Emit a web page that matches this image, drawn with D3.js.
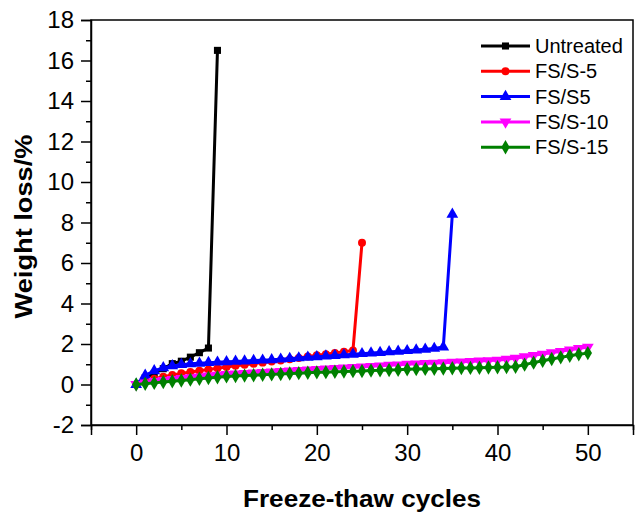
<!DOCTYPE html>
<html>
<head>
<meta charset="utf-8">
<title>Weight loss</title>
<style>
	body { margin: 0; background: #fff; }
	svg { display: block; font-family: Arial, "Liberation Sans", sans-serif; }
</style>
</head>
<body>
<svg width="635" height="518"></svg>
<script src="https://cdn.jsdelivr.net/npm/d3@7"></script>
<script>
	// data
	const names = ["Untreated", "FS/S-5", "FS/S5", "FS/S-10", "FS/S-15"]
	const colors = ["#000000", "#ff0000", "#0000ff", "#ff00ff", "#008000"]
	const symbols = ["square", "circle", "triangle", "triangleDown", "diamond"]

	const untreated = [0, 0.33, 0.55, 0.78, 1.03, 1.15, 1.35, 1.57, 1.8, 16.5]
	const fs5neg = [0, 0.15, 0.28, 0.38, 0.47, 0.55, 0.62, 0.68, 0.74, 0.8, 0.86, 0.92, 0.98, 1.03, 1.08,
		1.13, 1.19, 1.25, 1.31, 1.38, 1.44, 1.5, 1.56, 1.62, 1.68, 7.0]
	const fs5 = [0, 0.45, 0.68, 0.82, 0.92, 0.98, 1.02, 1.05, 1.08, 1.1, 1.12, 1.14, 1.16, 1.18, 1.2,
		1.22, 1.25, 1.28, 1.31, 1.34, 1.37, 1.4, 1.43, 1.46, 1.49, 1.52, 1.55, 1.58, 1.61, 1.64,
		1.67, 1.7, 1.74, 1.78, 1.85, 8.4]
	const fs10 = [0, 0.08, 0.15, 0.2, 0.25, 0.3, 0.34, 0.38, 0.42, 0.46, 0.5, 0.52, 0.55, 0.57, 0.6,
		0.62, 0.65, 0.67, 0.7, 0.72, 0.75, 0.77, 0.8, 0.82, 0.85, 0.87, 0.9, 0.92, 0.95, 0.97,
		1.0, 1.02, 1.04, 1.06, 1.08, 1.1, 1.12, 1.14, 1.16, 1.18, 1.2, 1.25, 1.3, 1.37, 1.44,
		1.5, 1.57, 1.64, 1.71, 1.78, 1.85]
	const fs15 = [0, 0.04, 0.08, 0.12, 0.16, 0.2, 0.24, 0.28, 0.32, 0.36, 0.4, 0.42, 0.44, 0.46, 0.48,
		0.5, 0.52, 0.54, 0.56, 0.58, 0.6, 0.61, 0.63, 0.64, 0.66, 0.67, 0.69, 0.7, 0.72, 0.73,
		0.75, 0.76, 0.77, 0.78, 0.79, 0.8, 0.81, 0.82, 0.83, 0.84, 0.85, 0.86, 0.88, 0.98, 1.08,
		1.17, 1.26, 1.34, 1.42, 1.49, 1.55]
	const series = [untreated, fs5neg, fs5, fs10, fs15]

	const xTicks = [0, 10, 20, 30, 40, 50]
	const yTicks = [-2, 0, 2, 4, 6, 8, 10, 12, 14, 16, 18]

	const svg = d3.select("svg")
	const L = 91, R = 633, T = 20, B = 425

	const x = d3.scaleLinear().domain([-5, 55]).range([L, R])
	const y = d3.scaleLinear().domain([-2, 18]).range([B, T])

	// frame
	svg.append("rect")
		.attr("x", L).attr("y", T).attr("width", R - L).attr("height", B - T)
		.attr("fill", "none").attr("stroke", "#000").attr("stroke-width", 1.5)

	// axes (major + minor)
	const xAx = svg.append("g").attr("transform", `translate(0,${B})`)
		.call(d3.axisBottom(x).tickValues(xTicks).tickSize(10).tickPadding(9).tickFormat(d => String(d)))
	svg.append("g").attr("transform", `translate(0,${B})`)
		.call(d3.axisBottom(x).tickValues(d3.range(-5, 56, 10)).tickSize(5).tickFormat(() => ""))
		.select(".domain").remove()
	const yAx = svg.append("g").attr("transform", `translate(${L},0)`)
		.call(d3.axisLeft(y).tickValues(yTicks).tickSize(10).tickPadding(7).tickFormat(d => String(d)))
	svg.append("g").attr("transform", `translate(${L},0)`)
		.call(d3.axisLeft(y).tickValues(d3.range(-1, 18, 2)).tickSize(5).tickFormat(() => ""))
		.select(".domain").remove()

	svg.selectAll(".domain").attr("stroke-width", 1.5)
	svg.selectAll(".tick line").attr("stroke-width", 1.5)
	xAx.selectAll("text").attr("font-size", 24).attr("font-family", "Arial, 'Liberation Sans'")
	yAx.selectAll("text").attr("font-size", 24).attr("font-family", "Arial, 'Liberation Sans'")

	// titles
	svg.append("text").text("Freeze-thaw cycles")
		.attr("x", 362).attr("y", 507)
		.attr("text-anchor", "middle").attr("font-size", 24).attr("font-weight", "bold")
		.attr("textLength", 238).attr("lengthAdjust", "spacingAndGlyphs")
	svg.append("text").text("Weight loss/%")
		.attr("transform", `translate(32,${(T + B) / 2 + 4}) rotate(-90)`)
		.attr("text-anchor", "middle").attr("font-size", 24).attr("font-weight", "bold")
		.attr("textLength", 184).attr("lengthAdjust", "spacingAndGlyphs")

	const symMap = {
		square: [d3.symbolSquare, 50],
		circle: [d3.symbolCircle, 50],
		triangle: [d3.symbolTriangle, 60],
		triangleDown: [d3.symbolTriangle, 60],
		diamond: [d3.symbolDiamond, 60]
	}
	function symPath(k) {
		return d3.symbol().type(symMap[k][0]).size(symMap[k][1])()
	}
	function symRot(k) { return k === "triangleDown" ? " rotate(180)" : "" }

	const line = d3.line().x((d, i) => x(i)).y(d => y(d))

	series.forEach((s, k) => {
		const g = svg.append("g")
		g.append("path").datum(s).attr("d", line)
			.attr("fill", "none").attr("stroke", colors[k]).attr("stroke-width", 3)
			.attr("stroke-linejoin", "round")
		g.selectAll("path.m").data(s).join("path").attr("class", "m")
			.attr("d", symPath(symbols[k]))
			.attr("transform", (d, i) => `translate(${x(i)},${y(d)})${symRot(symbols[k])}`)
			.attr("fill", colors[k])
	})

	// legend
	const lg = svg.append("g")
	names.forEach((n, k) => {
		const yy = 46 + k * 25.3
		lg.append("line").attr("x1", 481).attr("x2", 530).attr("y1", yy).attr("y2", yy)
			.attr("stroke", colors[k]).attr("stroke-width", 3)
		lg.append("path").attr("d", symPath(symbols[k]))
			.attr("transform", `translate(505.5,${yy})${symRot(symbols[k])}`)
			.attr("fill", colors[k])
		lg.append("text").text(n).attr("x", 535).attr("y", yy + 7)
			.attr("font-size", 20)
	})
</script>
</body>
</html>
